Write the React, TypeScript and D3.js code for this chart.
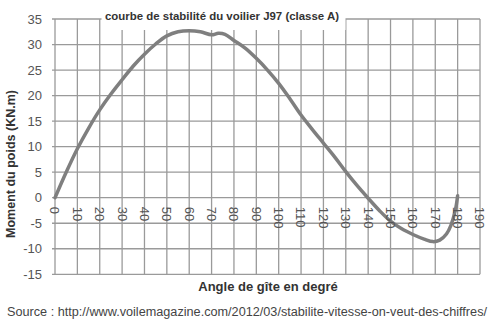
import React from "react";
import * as d3 from "d3";

const angles = [0, 5, 10, 15, 20, 25, 30, 35, 40, 45, 50, 55, 60, 65, 70, 73, 76, 80, 85, 90, 95, 100, 105, 110, 115, 120, 125, 130, 135, 140, 145, 150, 155, 160, 165, 169, 172, 175, 177, 179, 180];
const moments = [0, 5, 9.6, 13.6, 17.2, 20.3, 23.1, 25.8, 28.1, 30.1, 31.7, 32.5, 32.7, 32.5, 31.9, 32.2, 32.0, 30.8, 29.3, 27.3, 25, 22.4, 19.4, 16.2, 13.4, 10.7, 8, 5.1, 2.4, -0.1, -2.5, -4.6, -6.1, -7.2, -8.1, -8.6, -8.3, -7.1, -5.4, -2.4, 0.4];
const xTicks = [0, 10, 20, 30, 40, 50, 60, 70, 80, 90, 100, 110, 120, 130, 140, 150, 160, 170, 180, 190];
const yTicks = [-15, -10, -5, 0, 5, 10, 15, 20, 25, 30, 35];

const title = "courbe de stabilité du voilier J97 (classe A)";
const xTitle = "Angle de gîte en degré";
const yTitle = "Moment du poids (KN.m)";
const source = "Source : http://www.voilemagazine.com/2012/03/stabilite-vitesse-on-veut-des-chiffres/";

export default function App() {
  const W = 491, H = 324;
  const x = d3.scaleLinear().domain([0, 190]).range([55, 480]);
  const y = d3.scaleLinear().domain([-15, 35]).range([274.3, 19]);
  const pts = angles.map((a, i) => [a, moments[i]] as [number, number]);
  const line = d3
    .line<[number, number]>()
    .x((d) => x(d[0]))
    .y((d) => y(d[1]))
    .curve(d3.curveCatmullRom.alpha(0.5));
  const grid = "#9a9a9a";
  const font = "Liberation Sans, Arial, sans-serif";
  return (
    <svg
      width={W}
      height={H}
      style={{ position: "absolute", left: 0, top: 0, background: "#fff" }}
      fontFamily={font}
    >
      <rect x={0} y={0} width={W} height={H} fill="#fff" />
      {yTicks.map((t) => (
        <line key={"h" + t} x1={52} x2={x(190)} y1={y(t)} y2={y(t)} stroke={grid} strokeWidth={1.3} />
      ))}
      {xTicks.map((t) => (
        <line key={"v" + t} x1={x(t)} x2={x(t)} y1={y(35)} y2={y(-15)} stroke={grid} strokeWidth={1.3} />
      ))}
      <rect x={101.5} y={0} width={244} height={30} fill="#fff" />
      <path d={line(pts) || ""} fill="none" stroke="#7f7f7f" strokeWidth={3.5} strokeLinejoin="round" strokeLinecap="round" />
      {yTicks.map((t) => (
        <text key={"yl" + t} x={42} y={y(t)} dy="0.35em" textAnchor="end" fontSize={13} fill="#555">
          {t}
        </text>
      ))}
      {xTicks.map((t) => (
        <text
          key={"xl" + t}
          transform={`translate(${x(t)},${y(0) + 9}) rotate(90)`}
          dy="0.35em"
          textAnchor="start"
          fontSize={13}
          fill="#555"
        >
          {t}
        </text>
      ))}
      <text x={222} y={20} textAnchor="middle" fontSize={11} fontWeight="bold" fill="#333" textLength={234} lengthAdjust="spacingAndGlyphs">
        {title}
      </text>
      <text x={268} y={291} textAnchor="middle" fontSize={13} fontWeight="bold" fill="#333">
        {xTitle}
      </text>
      <text transform={`translate(15,164) rotate(-90)`} textAnchor="middle" fontSize={12.5} fontWeight="bold" fill="#333">
        {yTitle}
      </text>
      <text x={7} y={316} fontSize={12} fill="#444" textLength={480} lengthAdjust="spacingAndGlyphs">
        {source}
      </text>
    </svg>
  );
}
